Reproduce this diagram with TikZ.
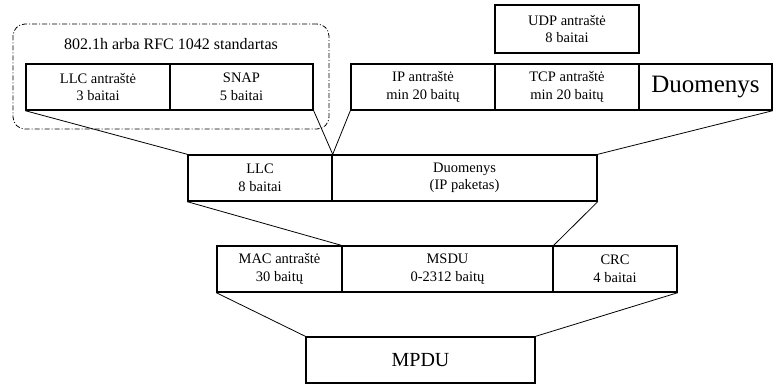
\documentclass[tikz,border=0pt]{standalone}
\usepackage{fontspec}
\setmainfont{Liberation Serif}
\usepackage{tikz}
\usetikzlibrary{positioning,calc}

\begin{document}
\begin{tikzpicture}[x=1pt,y=-1pt,line join=miter,
   fld/.style={draw,line width=1.4pt,align=center,inner sep=0pt,minimum height=46pt,
     font=\fontsize{14.5}{17.5}\selectfont},
   link/.style={line width=0.8pt}]
  \useasboundingbox (0,0) rectangle (773,384);
  % 802.1h encapsulation
  \node[draw,line width=0.8pt,rounded corners=12pt,dash pattern=on 5pt off 2pt on 1pt off 2pt,
    minimum width=316pt,minimum height=105pt] (std) at (171,76.5) {};
  \node[font=\fontsize{16}{19}\selectfont] (stdlbl) at (171,44) {802.1h arba RFC 1042 standartas};
  \node[fld,minimum width=144pt] (llch) at (98,87) {LLC antraštė\\3 baitai};
  \node[fld,minimum width=143pt] (snap) at (241.5,87) {SNAP\\5 baitai};
  % IP packet
  \node[fld,minimum width=144pt] (iph) at (423,87) {IP antraštė\\min 20 baitų};
  \node[fld,minimum width=144pt] (tcph) at (567,87) {TCP antraštė\\min 20 baitų};
  \node[fld,minimum width=133pt,font=\fontsize{25}{28}\selectfont] (duom) at (705.5,87) {Duomenys};
  \node[fld,minimum width=144pt,minimum height=48pt] (udph) at (567,29) {UDP antraštė\\8 baitai};
  % LLC frame
  \node[fld,minimum width=144pt] (llc) at (260,178) {LLC\\8 baitai};
  \node[fld,minimum width=265pt] (data) at (464.5,178) {Duomenys\\(IP paketas)};
  % MAC frame
  \node[fld,minimum width=125pt] (mach) at (279.5,269) {MAC antraštė\\30 baitų};
  \node[fld,minimum width=211pt] (msdu) at (447.5,269) {MSDU\\0-2312 baitų};
  \node[fld,minimum width=124pt] (crc) at (615,269) {CRC\\4 baitai};
  \node[fld,minimum width=229pt,font=\fontsize{20}{24}\selectfont] (mpdu) at (420.5,360) {MPDU};
  % connectors
  \draw[link] (llch.south west) -- (llc.north west);
  \draw[link] (snap.south east) -- (llc.north east);
  \draw[link] (iph.south west) -- (llc.north east);
  \draw[link] (duom.south east) -- (data.north east);
  \draw[link] (llc.south west) -- (msdu.north west);
  \draw[link] (data.south east) -- (msdu.north east);
  \draw[link] (mach.south west) -- (mpdu.north west);
  \draw[link] (crc.south east) -- (mpdu.north east);
\end{tikzpicture}
\end{document}
